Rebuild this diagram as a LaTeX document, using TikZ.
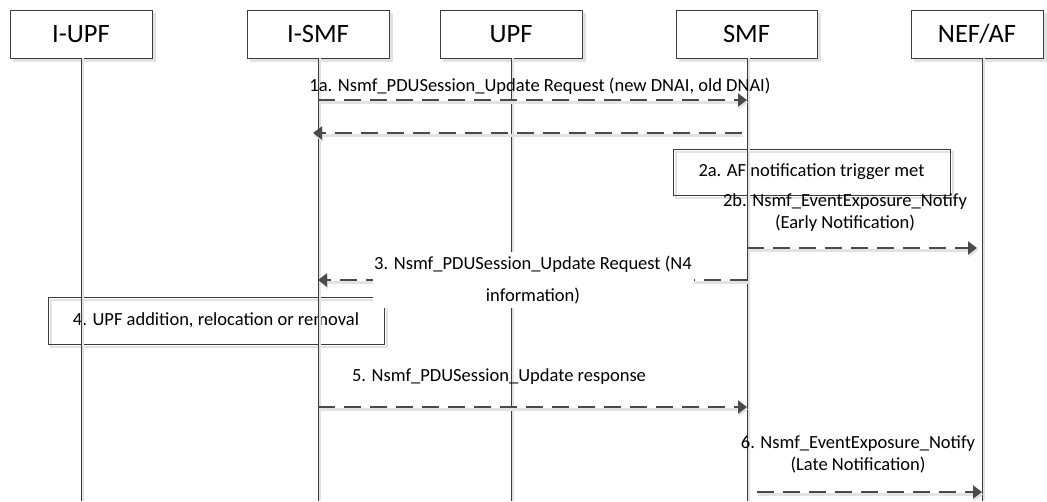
\documentclass[tikz,border=0pt]{standalone}
\usepackage{fontspec}
\setmainfont{Carlito}
\usetikzlibrary{arrows.meta}
\definecolor{ln}{HTML}{3C3C3C}
\definecolor{dl}{HTML}{4A4A4A}
\definecolor{sh}{HTML}{E2E2E2}
\begin{document}
\begin{tikzpicture}[x=1pt,y=-1pt,
  head/.style={draw=ln, line width=0.8pt, fill=white, minimum height=48pt, inner sep=0pt,
    font=\fontsize{26.5}{28}\selectfont,
    preaction={draw=sh, fill=sh, transform canvas={shift={(3pt,-3pt)}}}},
  actbox/.style={draw=ln, line width=0.8pt, inner sep=0pt, font=\fontsize{18.5}{22}\selectfont,
    preaction={draw=sh, line width=1.5pt, transform canvas={shift={(3pt,-3pt)}}}},
  life/.style={draw=ln, line width=0.9pt,
    preaction={draw=sh, line width=1.2pt, transform canvas={shift={(2pt,0pt)}}}},
  msg/.style={draw=dl, line width=2.3pt, dash pattern=on 17pt off 9pt,
    -{Triangle[length=9pt,width=13pt]},
    preaction={draw=sh, line width=2.3pt, transform canvas={shift={(1pt,-2.5pt)}}}},
  lbl/.style={inner sep=0pt, font=\fontsize{18.5}{22}\selectfont, align=center}
]
\useasboundingbox (0,0) rectangle (1047,501);

% headers
\node[head, minimum width=142pt] (iupf) at (81,34) {I-UPF};
\node[head, minimum width=142pt] (ismf) at (318,34) {I-SMF};
\node[head, minimum width=142pt] (upf) at (511,34) {UPF};
\node[head, minimum width=141pt] (smf) at (746.5,34) {SMF};
\node[head, minimum width=132pt] (nef) at (977,34) {NEF/AF};

% bottom ends of lifelines
\coordinate (iupfE) at (81,501);
\coordinate (ismfE) at (318,501);
\coordinate (upfE) at (511,501);
\coordinate (smfE) at (747,501);
\coordinate (nefE) at (982,501);

% action boxes (unfilled)
\node[actbox, minimum width=277pt, minimum height=46pt] (b2a) at (811.5,172) {2a. AF notification trigger met};
\node[actbox, minimum width=336pt, minimum height=47pt] (b4) at (216,320.5) {4. UPF addition, relocation or removal};

% lifelines
\draw[life] (iupf.south) -- (iupfE);
\draw[life] (ismf.south) -- (ismfE);
\draw[life] ([xshift=0pt]upf.south) -- (upfE);
\draw[life] ([xshift=0.5pt]smf.south) -- (smfE);
\draw[life] ([xshift=5pt]nef.south) -- (nefE);

% 1a
\node[lbl] (l1a) at (540,86) {1a. Nsmf\_PDUSession\_Update Request (new DNAI, old DNAI)};
\draw[msg] (ismfE |- 0,100) -- (smfE |- 0,100);
\draw[msg, shorten <=5pt, shorten >=-5pt] (smfE |- 0,133) -- (ismfE |- 0,133);

% 2b
\node[lbl] (l2b) at (845,213) {2b. Nsmf\_EventExposure\_Notify\\(Early Notification)};
\draw[msg, shorten >=5pt] (smfE |- 0,248) -- (nefE |- 0,248);

% 3
\draw[msg] (smfE |- 0,280) -- (ismfE |- 0,280);
\node[lbl, fill=white, minimum width=321pt, minimum height=56pt] (l3) at (533,280)
  {3. Nsmf\_PDUSession\_Update Request (N4\\[10pt]information)};

% 5
\node[lbl] (l5) at (499,377) {5. Nsmf\_PDUSession\_Update response};
\draw[msg] (ismfE |- 0,407) -- (smfE |- 0,407);

% 6
\node[lbl] (l6) at (858,454) {6. Nsmf\_EventExposure\_Notify\\(Late Notification)};
\draw[msg, shorten <=10pt] (smfE |- 0,492) -- (nefE |- 0,492);
\end{tikzpicture}
\end{document}
